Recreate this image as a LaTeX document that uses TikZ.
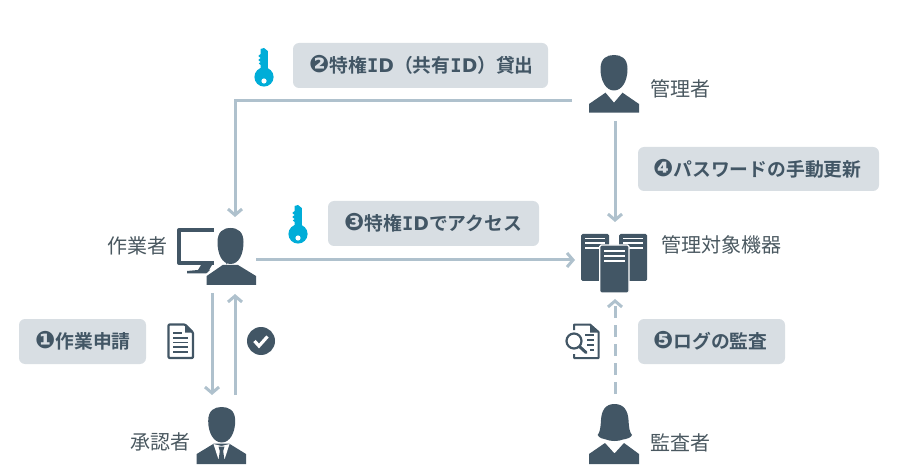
\documentclass[tikz,border=0pt]{standalone}
\usepackage{fontspec}
\setmainfont{Noto Sans CJK JP}[BoldFont={Noto Sans CJK JP Bold}]
\newfontfamily\dvb{DejaVu Sans}
\newfontfamily\dvm{DejaVu Sans Mono}
\usetikzlibrary{arrows.meta}
\definecolor{ink}{HTML}{425665}
\definecolor{txt}{HTML}{4A5860}
\definecolor{boxc}{HTML}{D8DEE3}
\definecolor{linec}{HTML}{AFC1CD}
\definecolor{keyc}{HTML}{00ADD8}
\newcommand{\idt}{{\dvm\bfseries I}{\dvb\bfseries D}}
\newcommand{\numc}[1]{{\dvb\fontsize{24}{24}\selectfont\symbol{#1}}}
\tikzset{
  conn/.style={draw=linec,line width=3pt,-{Straight Barb[length=6pt,width=14pt,line width=3pt]}},
  stepbox/.style={fill=boxc,rounded corners=6pt,draw=none},
  steptext/.style={text=ink,font=\fontsize{18.8}{19}\selectfont\bfseries,inner sep=0pt},
  actorname/.style={text=txt,font=\fontsize{20}{20}\selectfont,inner sep=0pt},
  head/.pic={\fill[ink] (-13.5,14) .. controls (-13.5,3) and (-7,0) .. (0,0) .. controls (7,0) and (13.5,3) .. (13.5,14) .. controls (13.5,26) and (8,35.5) .. (0,35.5) .. controls (-8,35.5) and (-13.5,26) .. cycle;},
  vbody/.pic={\fill[ink] (-25,49) -- (-8.5,37.7) -- (0,47.7) -- (8.5,37.7) -- (25,49) -- (25,57.7) -- (-25,57.7) -- cycle;},
  keyicon/.pic={
    \fill[keyc] (-3.4,0) -- (0,-1) -- (3.8,2) -- (3.8,22) -- (-3.4,22) -- (-3.4,16) -- (-5.2,14.5) -- (-3.4,13) -- (-5.7,11) -- (-3.4,9) -- (-5.7,7) -- (-3.4,5) -- cycle;
    \fill[keyc] (0,28) circle[radius=9.6];
    \fill[white] (0,32) circle[radius=2.6];
  }
}
\begin{document}
\begin{tikzpicture}[x=1pt,y=-1pt]
\useasboundingbox (0,0) rectangle (900,473);
% anchors for connectors
\coordinate (mgrW) at (572,101);
\coordinate (corner) at (235,101);
\coordinate (wrkN) at (235,217);
\coordinate (mgrS) at (615,121);
\coordinate (srvN) at (615,222);
\coordinate (wrkE) at (256,260);
\coordinate (srvW) at (575,260);
\coordinate (wrkSa) at (212,293);
\coordinate (aprNa) at (212,395);
\coordinate (aprNb) at (235,395);
\coordinate (wrkSb) at (235,294);
\coordinate (audN) at (615,394);
\coordinate (srvS) at (615,299);
% connectors
\draw[conn] (mgrW) -- (corner) -- (wrkN);
\draw[conn] (mgrS) -- (srvN);
\draw[conn] (wrkE) -- (srvW);
\draw[conn] (wrkSa) -- (aprNa);
\draw[conn] (aprNb) -- (wrkSb);
\draw[conn,dash pattern=on 12pt off 7pt] (audN) -- (srvS);
% step labels
\fill[stepbox] (293,43) rectangle (548,88);
\fill[stepbox] (328,201) rectangle (539,246);
\fill[stepbox] (638,147) rectangle (879,191);
\fill[stepbox] (638,319) rectangle (785,364);
\fill[stepbox] (19,319) rectangle (146,364);
\node[steptext,anchor=west] (s2) at (309,65) {\numc{"2777}特権\idt（共有\idt）貸出};
\node[steptext,anchor=west] (s3) at (344,223) {\numc{"2778}特権\idt でアクセス};
\node[steptext,anchor=west] (s4) at (653,169) {\numc{"2779}パスワードの手動更新};
\node[steptext,anchor=west] (s5) at (653,341) {\numc{"277A}ログの監査};
\node[steptext,anchor=west] (s1) at (35,341) {\numc{"2776}作業申請};
% actor names
\node[actorname,anchor=west] (nmgr) at (650,89) {管理者};
\node[actorname,anchor=west] (nwrk) at (107,246) {作業者};
\node[actorname,anchor=west] (napr) at (130,442) {承認者};
\node[actorname,anchor=west] (naud) at (650,443) {監査者};
\node[actorname,anchor=west] (nsrv) at (661,245) {管理対象機器};
% manager
\pic at (614,55) {head};
\pic at (614,55) {vbody};
% worker: monitor then person
\draw[ink,line width=4pt,line join=round] (179,230) rectangle (225,263);
\fill[ink] (201,265) -- (212,265) -- (209,270) -- (213,270) -- (213,273.5) -- (187,273.5) -- (187,271) -- (198,270) -- cycle;
\fill[white] (210,270) rectangle (222,280);
\fill[white] (226,226) -- (214,226) -- (214,266) -- (206,274) -- (226,274) -- cycle;
\fill[ink] (217.5,242) .. controls (217.5,232) and (223,228) .. (230.5,228) .. controls (238,228) and (243.5,232) .. (243.5,242) .. controls (243.5,254) and (239,264) .. (230.5,264) .. controls (222,264) and (217.5,254) .. cycle;
\fill[ink] (222.7,265) -- (238,265) -- (256,276) -- (256,285) -- (206.7,285) -- (206.7,276) -- cycle;
% approver
\pic at (221.7,407) {head};
\fill[ink] (196.7,454) -- (214,443.5) -- (229,443.5) -- (246,454) -- (246,464) -- (196.7,464) -- cycle;
\fill[white] (213.5,444) -- (221.5,446) -- (229.5,444) -- (225,458) -- (221.5,462) -- (218,458) -- cycle;
\fill[ink] (218.5,446.5) -- (224.5,446.5) -- (223.2,451) -- (224.5,461) -- (221.5,463) -- (218.5,461) -- (219.8,451) -- cycle;
% auditor
\fill[ink] (614.5,404) .. controls (605,404) and (601.5,411) .. (601,420) .. controls (600.5,428) and (600,432) .. (597.7,435) .. controls (599,438) and (603,439) .. (606,439.5) .. controls (610,441.5) and (619,441.5) .. (623,439.5) .. controls (626,439) and (631,438) .. (632,435) .. controls (629.5,432) and (629,428) .. (628.5,420) .. controls (628,411) and (624,404) .. (614.5,404) -- cycle;
\fill[ink] (589,454) -- (605,443) -- (614.5,453.5) -- (624,443) -- (639,454) -- (639,464) -- (589,464) -- cycle;
% servers
\fill[ink,rounded corners=1.5pt] (581,234) rectangle (609,281);
\fill[ink,rounded corners=1.5pt] (619,234) rectangle (647,281);
\draw[white,line width=1.3pt] (585,238.5) -- (605,238.5) (585,243) -- (605,243) (585,248) -- (605,248);
\draw[white,line width=1.3pt] (623,238.5) -- (643,238.5) (623,243) -- (643,243) (623,248) -- (643,248);
\fill[ink,rounded corners=1.5pt,draw=white,line width=1.2pt] (599.7,245) rectangle (629,293);
\draw[white,line width=1.3pt] (604,251) -- (625,251) (604,256) -- (625,256) (604,261) -- (625,261);
% document icon
\draw[ink,line width=2.2pt,line join=round,rounded corners=1pt] (168.5,324.5) -- (185,324.5) -- (193,332.5) -- (193,358) -- (168.5,358) -- cycle;
\fill[ink] (185,325) -- (185,332.5) -- (192.5,332.5) -- cycle;
\draw[ink,line width=1.6pt] (173,333) -- (182,333) (173,338) -- (188,338) (173,342.5) -- (188,342.5) (173,347) -- (188,347) (173,352) -- (188,352);
% check badge
\fill[ink] (261,341) circle[radius=14];
\draw[white,line width=3.2pt] (254.5,341) -- (259,346) -- (267.5,336.5);
% log audit icon
\draw[ink,line width=2pt,line join=round] (574,330) -- (574,324.5) -- (590,324.5) -- (598.5,332) -- (598.5,358) -- (574,358) -- (574,354);
\fill[ink] (590,325) -- (590,332.5) -- (598,332.5) -- cycle;
\draw[ink,line width=1.5pt] (585,335) -- (594,335) (587,340) -- (594,340) (587,345) -- (594,345) (590,350) -- (594,350);
\draw[ink,line width=2.2pt,fill=white] (574,341) circle[radius=7.5];
\draw[ink,line width=3pt,line cap=round] (580,347) -- (586,352.5);
% keys
\pic at (264,49) {keyicon};
\pic at (298,206) {keyicon};
\end{tikzpicture}
\end{document}
